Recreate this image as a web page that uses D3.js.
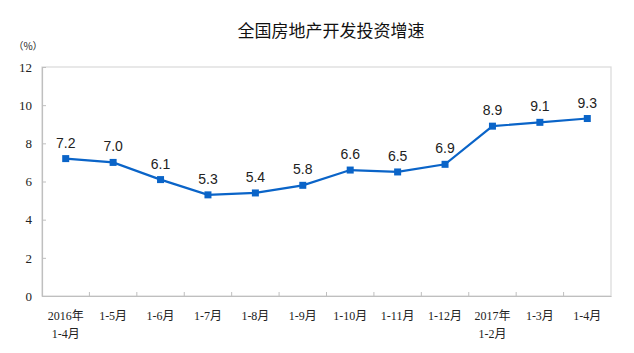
<!DOCTYPE html>
<html><head><meta charset="utf-8">
<script src="https://cdn.jsdelivr.net/npm/d3@7"></script>
<style>body{margin:0;background:#fff}</style>
</head><body><svg id="c" width="634" height="353"></svg>
<script>
const categories = [["2016年","1-4月"],["1-5月"],["1-6月"],["1-7月"],["1-8月"],["1-9月"],["1-10月"],["1-11月"],["1-12月"],["2017年","1-2月"],["1-3月"],["1-4月"]];
const values = [7.2,7.0,6.1,5.3,5.4,5.8,6.6,6.5,6.9,8.9,9.1,9.3];
const yTicks = [0,2,4,6,8,10,12];
const title = "全国房地产开发投资增速";
const unit = "（%）";

const svg = d3.select("#c");
const L=42,R=611,T=67,B=296;
const x = d3.scaleBand().domain(d3.range(categories.length)).range([L,R]);
const y = d3.scaleLinear().domain([0,12]).range([B,T]);
const cx = i => x(i)+x.bandwidth()/2;

svg.append("rect").attr("x",L).attr("y",T).attr("width",R-L).attr("height",B-T)
  .attr("fill","none").attr("stroke","#d9d9d9").attr("stroke-width",1.2);

const ya = svg.append("g").attr("transform",`translate(${L},0)`)
  .call(d3.axisLeft(y).tickValues(yTicks).tickSizeInner(-4).tickSizeOuter(0).tickPadding(10));
ya.select(".domain").attr("stroke","#bfbfbf").attr("stroke-width",1.2);
ya.selectAll(".tick line").attr("stroke","#bfbfbf");
ya.selectAll("text").attr("font-family","Liberation Serif").attr("font-size",13).attr("fill","#222");

const xa = svg.append("g").attr("transform",`translate(0,${B})`)
  .call(d3.axisBottom(x).tickValues(d3.range(1,categories.length)).tickSizeInner(0).tickSizeOuter(0).tickFormat(""));
xa.select(".domain").attr("stroke","#bfbfbf").attr("stroke-width",1.2);
svg.append("g").selectAll("line").data(d3.range(1,categories.length)).join("line")
  .attr("x1",i=>x(i)).attr("x2",i=>x(i)).attr("y1",B).attr("y2",B-4).attr("stroke","#bfbfbf");

const lab = svg.append("g").attr("font-size",12).attr("fill","#222")
  .attr("font-family","Liberation Serif, Noto Sans CJK SC").attr("text-anchor","middle");
categories.forEach((c,i)=>{
  c.forEach((s,j)=>lab.append("text").attr("x",cx(i)).attr("y",320+j*18).text(s));
});

svg.append("path").datum(values)
  .attr("d",d3.line().x((d,i)=>cx(i)).y(d=>y(d)))
  .attr("fill","none").attr("stroke","#0a64c8").attr("stroke-width",2.2);
svg.append("g").selectAll("rect").data(values).join("rect")
  .attr("x",(d,i)=>cx(i)-3.5).attr("y",d=>y(d)-3.5).attr("width",7).attr("height",7).attr("fill","#0a64c8");
svg.append("g").selectAll("text").data(values).join("text")
  .attr("x",(d,i)=>cx(i)).attr("y",d=>y(d)-11).attr("text-anchor","middle")
  .attr("font-family","Liberation Sans").attr("font-size",14).attr("fill","#222")
  .text(d=>d.toFixed(1));

svg.append("text").attr("x",331).attr("y",37).attr("text-anchor","middle")
  .attr("font-family","Noto Sans CJK SC").attr("font-size",17).attr("fill","#111").text(title);
svg.append("text").attr("x",28).attr("y",50).attr("text-anchor","middle")
  .attr("font-family","Noto Sans CJK SC").attr("font-size",10).attr("fill","#222").text(unit);
</script></body></html>
